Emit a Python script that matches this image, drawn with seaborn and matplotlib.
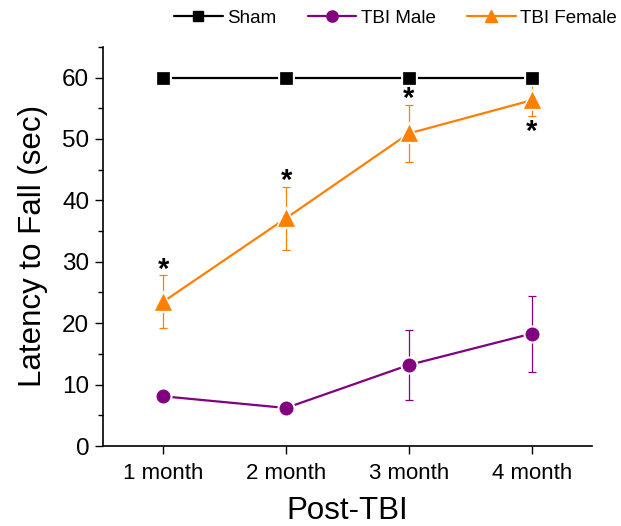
import numpy as np
import pandas as pd
import matplotlib
matplotlib.use("Agg")
import matplotlib.pyplot as plt
import seaborn as sns
from matplotlib.ticker import MultipleLocator
from matplotlib.lines import Line2D

categories = ["1 month", "2 month", "3 month", "4 month"]
sham_mean = [60, 60, 60, 60]
sham_err = [0, 0, 0, 0]
male_mean = [8.1, 6.2, 13.2, 18.3]
male_err = [1.0, 1.0, 5.7, 6.2]
female_mean = [23.5, 37.1, 50.9, 56.3]
female_err = [4.3, 5.1, 4.7, 2.5]
star_above = [True, True, True, False]

sns.set_theme(style="white")
plt.rcParams['font.family'] = ['Liberation Sans', 'DejaVu Sans']
plt.rcParams['text.color'] = 'black'
plt.rcParams['axes.labelcolor'] = 'black'
plt.rcParams['xtick.color'] = 'black'
plt.rcParams['ytick.color'] = 'black'

groups = ["Sham", "TBI Male", "TBI Female"]
means = [sham_mean, male_mean, female_mean]
errs = [sham_err, male_err, female_err]
colors = {"Sham": "#000000", "TBI Male": "#800080", "TBI Female": "#FF8000"}
markers = {"Sham": "s", "TBI Male": "o", "TBI Female": "^"}
msizes = {"Sham": 8, "TBI Male": 9.5, "TBI Female": 11}

rows = []
for g, m in zip(groups, means):
    for i, v in enumerate(m):
        rows.append({"x": i, "value": v, "group": g})
df = pd.DataFrame(rows)

fig = plt.figure(figsize=(6.21, 5.26), dpi=100)
ax = fig.add_axes([0.166, 0.152, 0.787, 0.759])

x = np.arange(len(categories))
for g, m, e in zip(groups, means, errs):
    if any(e):
        ax.errorbar(x, m, yerr=e, fmt="none", ecolor=colors[g], elinewidth=0.9,
                    capsize=3, capthick=0.9, zorder=2)

for g in groups:
    sub = df[df.group == g]
    sns.lineplot(data=sub, x="x", y="value", ax=ax, color=colors[g],
                 marker=markers[g], markersize=msizes[g] + 1.5, linewidth=1.6,
                 markeredgecolor="white", markeredgewidth=2.0, label=g,
                 sort=False, zorder=3)
for g, m in zip(groups, means):
    ax.plot(x, m, linestyle="none", marker=markers[g], markersize=msizes[g],
            color=colors[g], markeredgecolor=colors[g], markeredgewidth=0.5, zorder=4)

for i in range(len(categories)):
    if star_above[i]:
        yy = female_mean[i] + female_err[i] + 0.9
    else:
        yy = female_mean[i] - female_err[i] - 2.6
    ax.text(x[i], yy, "*", ha="center", va="center", fontsize=21, color="black",
            fontweight="bold")

ax.set_xlim(-0.49, 3.49)
ax.set_ylim(0, 65)
ax.set_xticks(x)
ax.set_xticklabels(categories, fontsize=16)
ax.set_yticks(range(0, 61, 10))
ax.tick_params(axis="y", labelsize=17.5)
ax.yaxis.set_minor_locator(MultipleLocator(5))
ax.tick_params(axis="both", which="major", direction="out", length=6, width=1,
               left=True, bottom=True, color="black", pad=4)
ax.tick_params(axis="x", which="major", pad=6)
ax.tick_params(axis="y", which="minor", direction="out", length=3.5, width=1,
               left=True, color="black")
for s in ["top", "right"]:
    ax.spines[s].set_visible(False)
for s in ["left", "bottom"]:
    ax.spines[s].set_color("black")
    ax.spines[s].set_linewidth(1.2)
ax.set_xlabel("Post-TBI", fontsize=22.5, labelpad=9)
ax.set_ylabel("Latency to Fall (sec)", fontsize=22.5, labelpad=10)
ax.grid(False)

ax.get_legend().remove()
hs = [Line2D([], [], color=colors[g], marker=markers[g], linewidth=1.6,
             markersize=msizes[g] * 0.85, markeredgecolor=colors[g]) for g in groups]
fig.legend(hs, groups, loc="center", bbox_to_anchor=(0.637, 0.965), ncol=3,
           frameon=False, fontsize=13.5, handlelength=2.6, handletextpad=0.25,
           columnspacing=1.65, borderpad=0)

fig.savefig("out.png", dpi=100)
